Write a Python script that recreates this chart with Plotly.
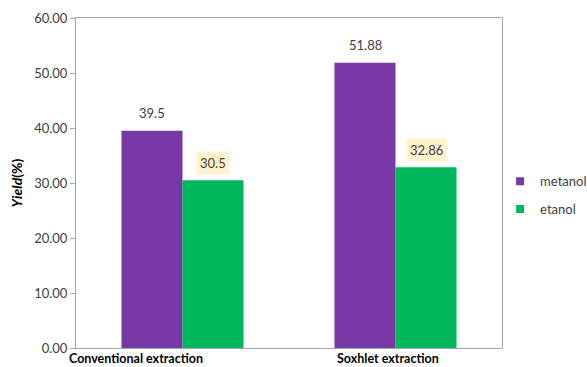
import plotly.graph_objects as go

categories = ["Conventional extraction", "Soxhlet extraction"]
metanol = [39.5, 51.88]
etanol = [30.5, 32.86]
metanol_labels = ["39.5", "51.88"]
etanol_labels = ["30.5", "32.86"]
y_ticks = [0, 10, 20, 30, 40, 50, 60]

PURPLE = "#7839A7"
GREEN = "#00B75B"
FONT = "Lato, 'Open Sans', sans-serif"
AXIS = "#A6A6A6"

fig = go.Figure()
fig.add_trace(go.Bar(x=categories, y=metanol, name="metanol", marker_color=PURPLE,
                     marker_line_width=0, showlegend=False))
fig.add_trace(go.Bar(x=categories, y=etanol, name="etanol", marker_color=GREEN,
                     marker_line_width=0, showlegend=False))
# legend entries with small square markers
fig.add_trace(go.Scatter(x=[categories[0]], y=[None], mode="markers", name="metanol",
                         marker=dict(symbol="square", size=8, color=PURPLE),
                         legendgroup="a"))
fig.add_trace(go.Scatter(x=[categories[0]], y=[None], mode="markers", name="etanol",
                         marker=dict(symbol="square", size=8, color=GREEN),
                         legendgroup="b"))

annotations = []
for i, c in enumerate(categories):
    annotations.append(dict(x=c, y=metanol[i], text=metanol_labels[i], showarrow=False,
                            xshift=-30.5, yshift=18, font=dict(size=13, color="#404040", family=FONT)))
    annotations.append(dict(x=c, y=etanol[i], text=etanol_labels[i], showarrow=False,
                            xshift=30.5, yshift=17, bgcolor="#FFF2CC", borderpad=3,
                            font=dict(size=13, color="#404040", family=FONT)))
# category labels
cat_shifts = [-47, -8]
for i, c in enumerate(categories):
    annotations.append(dict(x=c, y=0, xref="x", yref="paper", text="<b>" + c + "</b>",
                            showarrow=False, yanchor="top", xshift=cat_shifts[i], yshift=-1,
                            font=dict(size=12.5, color="#000000", family=FONT)))

fig.update_layout(
    width=587, height=367,
    margin=dict(l=76, r=85, t=18, b=19, autoexpand=False),
    paper_bgcolor="white", plot_bgcolor="white",
    barmode="group", bargap=0.427, bargroupgap=0,
    font=dict(family=FONT, size=13, color="#595959"),
    legend=dict(xref="container", yref="container", x=0.852, y=0.547,
                xanchor="left", yanchor="top", bgcolor="rgba(0,0,0,0)",
                font=dict(size=13, color="#404040", family=FONT),
                tracegroupgap=8, traceorder="grouped", itemwidth=30),
    annotations=annotations,
    xaxis=dict(range=[-0.5, 1.5], showline=True, linecolor=AXIS, linewidth=1, mirror=True,
               showticklabels=False, ticks="", showgrid=False),
    yaxis=dict(range=[0, 60], tickvals=y_ticks, tickformat=".2f",
               showline=True, linecolor=AXIS, linewidth=1, mirror=True,
               ticks="outside", ticklen=5, tickcolor=AXIS, showgrid=False,
               zeroline=False,
               tickfont=dict(size=13, color="#404040", family=FONT),
               title=dict(text="<b><i>Yield</i>(%)</b>", standoff=8,
                          font=dict(size=14, color="#000000", family=FONT))),
)

fig.write_html("out.html")
